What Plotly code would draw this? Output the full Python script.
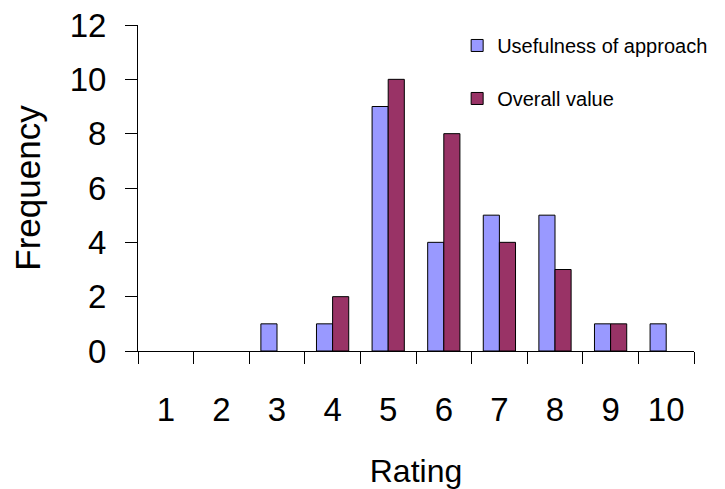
import plotly.graph_objects as go

ratings = ["1", "2", "3", "4", "5", "6", "7", "8", "9", "10"]
usefulness = [0, 0, 1, 1, 9, 4, 5, 5, 1, 1]
overall = [0, 0, 0, 2, 10, 8, 4, 3, 1, 0]
y_ticks = [0, 2, 4, 6, 8, 10, 12]

FONT = "Liberation Sans, Arial, sans-serif"
CLEAR = "rgba(0,0,0,0)"


def visible(values):
    # zero-height bars are not drawn in the original (no flat outline)
    return [v if v != 0 else None for v in values]


x_range = [-0.5, len(ratings) - 0.5]
y_range = [y_ticks[0], y_ticks[-1]]

fig = go.Figure()
fig.add_trace(go.Bar(x=ratings, y=visible(usefulness), name="Usefulness of approach",
                     marker=dict(color="#9999FF", line=dict(color="black", width=1)),
                     legendgroup="a"))
fig.add_trace(go.Bar(x=ratings, y=visible(overall), name="Overall value",
                     marker=dict(color="#993366", line=dict(color="black", width=1)),
                     legendgroup="b"))
# empty helper traces so the tick-mark axes get drawn
fig.add_trace(go.Scatter(x=[], y=[], xaxis="x2", yaxis="y", showlegend=False,
                         hoverinfo="skip"))
fig.add_trace(go.Scatter(x=[], y=[], xaxis="x", yaxis="y2", showlegend=False,
                         hoverinfo="skip"))

fig.update_layout(
    width=717, height=481,
    margin=dict(l=130, r=31, t=17, b=138, autoexpand=False),
    paper_bgcolor="white", plot_bgcolor="white",
    barmode="group", bargap=0.42, bargroupgap=0,
    font=dict(family=FONT, color="black"),
    legend=dict(x=0.574, y=0.997, xanchor="left", yanchor="top",
                font=dict(size=20, family=FONT), tracegroupgap=24,
                traceorder="grouped", bgcolor=CLEAR, itemwidth=30),
    # label axes: long transparent ticks push the labels away from the axes
    xaxis=dict(type="category", range=x_range, showline=True, linecolor="black",
               linewidth=1, ticks="outside", ticklen=29, tickcolor=CLEAR,
               tickfont=dict(size=33), showgrid=False, automargin=False,
               title=dict(text="Rating", font=dict(size=32), standoff=39)),
    yaxis=dict(range=y_range, tickvals=y_ticks, showline=True, linecolor="black",
               linewidth=1, ticks="outside", ticklen=24, tickcolor=CLEAR,
               tickfont=dict(size=33), showgrid=False, zeroline=False,
               automargin=False, ticklabeloverflow="allow",
               title=dict(text="Frequency", font=dict(size=35), standoff=18)),
    # tick-mark axes: visible short ticks (x ticks between categories)
    xaxis2=dict(overlaying="x", anchor="y", side="bottom", range=x_range,
                type="linear", tickmode="linear", tick0=x_range[0], dtick=1,
                ticks="outside", ticklen=12, tickcolor="black",
                showticklabels=False, showgrid=False, showline=False,
                zeroline=False),
    yaxis2=dict(overlaying="y", anchor="x", side="left", range=y_range,
                type="linear", tickvals=y_ticks, ticks="outside", ticklen=12,
                tickcolor="black", showticklabels=False, showgrid=False,
                showline=False, zeroline=False),
)

fig.write_html("out.html")
